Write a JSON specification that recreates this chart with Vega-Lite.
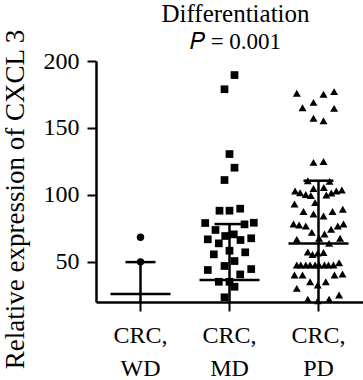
{
  "$schema": "https://vega.github.io/schema/vega-lite/v6.json",
  "autosize": "none",
  "padding": {"left": 96, "top": 61, "right": 0, "bottom": 78},
  "width": 267,
  "height": 241,
  "config": {
    "view": {"stroke": null},
    "font": "Liberation Serif",
    "axis": {"grid": false, "domainColor": "black", "tickColor": "black", "labelColor": "black", "titleColor": "black", "labelFont": "Liberation Serif", "titleFont": "Liberation Serif", "titleFontWeight": "normal"}
  },
  "title": {
    "text": "Differentiation",
    "subtitle": "𝑃 = 0.001",
    "font": "Liberation Serif",
    "fontSize": 25,
    "fontWeight": "normal",
    "color": "black",
    "subtitleFont": "Liberation Serif",
    "subtitleFontSize": 23,
    "subtitleColor": "black",
    "subtitlePadding": 4,
    "anchor": "middle",
    "dx": 6,
    "offset": -25
  },
  "datasets": {
    "points": [
      {"group": "CRC, WD", "jitter": 0, "value": 68.3},
      {"group": "CRC, WD", "jitter": 0, "value": 50},
      {"group": "CRC, MD", "jitter": 5, "value": 189.5},
      {"group": "CRC, MD", "jitter": -5, "value": 178.9},
      {"group": "CRC, MD", "jitter": 0, "value": 130.5},
      {"group": "CRC, MD", "jitter": 5, "value": 120.3},
      {"group": "CRC, MD", "jitter": -5, "value": 111.1},
      {"group": "CRC, MD", "jitter": -10, "value": 88.2},
      {"group": "CRC, MD", "jitter": 0, "value": 88.2},
      {"group": "CRC, MD", "jitter": 10.7, "value": 89.7},
      {"group": "CRC, MD", "jitter": -24.3, "value": 79},
      {"group": "CRC, MD", "jitter": 24.3, "value": 79.2},
      {"group": "CRC, MD", "jitter": 15, "value": 78},
      {"group": "CRC, MD", "jitter": -14, "value": 73.8},
      {"group": "CRC, MD", "jitter": -21.7, "value": 66.8},
      {"group": "CRC, MD", "jitter": -4.3, "value": 69.3},
      {"group": "CRC, MD", "jitter": 4.3, "value": 70.5},
      {"group": "CRC, MD", "jitter": 11, "value": 66.3},
      {"group": "CRC, MD", "jitter": 21.7, "value": 67.6},
      {"group": "CRC, MD", "jitter": -10.7, "value": 63.8},
      {"group": "CRC, MD", "jitter": 0, "value": 58.3},
      {"group": "CRC, MD", "jitter": -15.7, "value": 55.6},
      {"group": "CRC, MD", "jitter": 15.7, "value": 57.1},
      {"group": "CRC, MD", "jitter": 5, "value": 50.6},
      {"group": "CRC, MD", "jitter": -5, "value": 46.9},
      {"group": "CRC, MD", "jitter": -21.7, "value": 43.9},
      {"group": "CRC, MD", "jitter": 21.7, "value": 44.6},
      {"group": "CRC, MD", "jitter": 10.7, "value": 40.6},
      {"group": "CRC, MD", "jitter": -10.7, "value": 35.1},
      {"group": "CRC, MD", "jitter": 0, "value": 35.1},
      {"group": "CRC, MD", "jitter": 5, "value": 31.4},
      {"group": "CRC, MD", "jitter": -5, "value": 23.5},
      {"group": "CRC, PD", "jitter": -21.7, "value": 175.9},
      {"group": "CRC, PD", "jitter": 5, "value": 175.1},
      {"group": "CRC, PD", "jitter": 15.6, "value": 177.1},
      {"group": "CRC, PD", "jitter": -5, "value": 169.1},
      {"group": "CRC, PD", "jitter": -16, "value": 165.1},
      {"group": "CRC, PD", "jitter": 15.6, "value": 164.6},
      {"group": "CRC, PD", "jitter": -5, "value": 157.2},
      {"group": "CRC, PD", "jitter": 5, "value": 155.4},
      {"group": "CRC, PD", "jitter": -5, "value": 124.3},
      {"group": "CRC, PD", "jitter": 5, "value": 125},
      {"group": "CRC, PD", "jitter": -10.7, "value": 110.6},
      {"group": "CRC, PD", "jitter": 11, "value": 110.1},
      {"group": "CRC, PD", "jitter": -23.4, "value": 102.9},
      {"group": "CRC, PD", "jitter": -18.4, "value": 101.6},
      {"group": "CRC, PD", "jitter": -12.7, "value": 100.3},
      {"group": "CRC, PD", "jitter": -7.7, "value": 99.5},
      {"group": "CRC, PD", "jitter": -5, "value": 104.8},
      {"group": "CRC, PD", "jitter": 5.3, "value": 105.5},
      {"group": "CRC, PD", "jitter": 7.8, "value": 99.9},
      {"group": "CRC, PD", "jitter": 12.8, "value": 101.4},
      {"group": "CRC, PD", "jitter": 17.8, "value": 102.9},
      {"group": "CRC, PD", "jitter": 23.3, "value": 103.6},
      {"group": "CRC, PD", "jitter": -3.4, "value": 94.2},
      {"group": "CRC, PD", "jitter": -24, "value": 93.2},
      {"group": "CRC, PD", "jitter": -15, "value": 87.6},
      {"group": "CRC, PD", "jitter": -5, "value": 85.7},
      {"group": "CRC, PD", "jitter": 5, "value": 84.2},
      {"group": "CRC, PD", "jitter": 14, "value": 87.6},
      {"group": "CRC, PD", "jitter": 24.3, "value": 89.3},
      {"group": "CRC, PD", "jitter": -25, "value": 78.2},
      {"group": "CRC, PD", "jitter": -19.4, "value": 77.5},
      {"group": "CRC, PD", "jitter": -12.7, "value": 76.7},
      {"group": "CRC, PD", "jitter": -6.7, "value": 72},
      {"group": "CRC, PD", "jitter": 6, "value": 70.8},
      {"group": "CRC, PD", "jitter": 12.6, "value": 74.3},
      {"group": "CRC, PD", "jitter": 19.3, "value": 76.7},
      {"group": "CRC, PD", "jitter": 25, "value": 78.2},
      {"group": "CRC, PD", "jitter": -21.7, "value": 66.8},
      {"group": "CRC, PD", "jitter": 0.6, "value": 67.6},
      {"group": "CRC, PD", "jitter": 21.6, "value": 67.6},
      {"group": "CRC, PD", "jitter": 10.6, "value": 63.8},
      {"group": "CRC, PD", "jitter": -10.7, "value": 57.3},
      {"group": "CRC, PD", "jitter": -6, "value": 55.5},
      {"group": "CRC, PD", "jitter": -0.7, "value": 56.5},
      {"group": "CRC, PD", "jitter": 5, "value": 57},
      {"group": "CRC, PD", "jitter": -21.7, "value": 47.6},
      {"group": "CRC, PD", "jitter": -17.7, "value": 47.6},
      {"group": "CRC, PD", "jitter": -12.7, "value": 47.6},
      {"group": "CRC, PD", "jitter": -8.4, "value": 47.6},
      {"group": "CRC, PD", "jitter": -3.4, "value": 47.6},
      {"group": "CRC, PD", "jitter": 0.6, "value": 47.6},
      {"group": "CRC, PD", "jitter": 6, "value": 47.6},
      {"group": "CRC, PD", "jitter": 10, "value": 47.6},
      {"group": "CRC, PD", "jitter": 15, "value": 47.6},
      {"group": "CRC, PD", "jitter": 20.6, "value": 49.3},
      {"group": "CRC, PD", "jitter": -24, "value": 40.1},
      {"group": "CRC, PD", "jitter": -16, "value": 40.1},
      {"group": "CRC, PD", "jitter": 16, "value": 40.1},
      {"group": "CRC, PD", "jitter": 24, "value": 40.9},
      {"group": "CRC, PD", "jitter": -21.7, "value": 30.2},
      {"group": "CRC, PD", "jitter": -8.4, "value": 35.1},
      {"group": "CRC, PD", "jitter": -0.7, "value": 32.7},
      {"group": "CRC, PD", "jitter": 7.3, "value": 35.1},
      {"group": "CRC, PD", "jitter": -10.7, "value": 22},
      {"group": "CRC, PD", "jitter": -0.7, "value": 20.9},
      {"group": "CRC, PD", "jitter": 10.6, "value": 22},
      {"group": "CRC, PD", "jitter": 20.6, "value": 25.2}
    ],
    "summary": [
      {"group": "CRC, WD", "mean": 26, "low": 2, "high": 49.8},
      {"group": "CRC, MD", "mean": 36.4, "low": -5, "high": 78.2},
      {"group": "CRC, PD", "mean": 63.7, "low": 17, "high": 110.6}
    ]
  },
  "encoding": {
    "x": {
      "field": "group",
      "type": "nominal",
      "sort": ["CRC, WD", "CRC, MD", "CRC, PD"],
      "scale": {"paddingInner": 0, "paddingOuter": 0},
      "axis": {
        "title": null,
        "labelAngle": 0,
        "labelExpr": "split(datum.label, ' ')",
        "labelFont": "Liberation Serif",
        "labelFontSize": 24,
        "labelLineHeight": 33,
        "labelBaseline": "top",
        "labelPadding": 12,
        "tickSize": 9,
        "tickWidth": 2,
        "domainWidth": 2.5
      }
    }
  },
  "layer": [
    {
      "data": {"name": "summary"},
      "mark": {"type": "rule", "color": "black", "strokeWidth": 2.5, "clip": true},
      "encoding": {
        "y": {"field": "low", "type": "quantitative", "scale": {"domain": [20, 200], "nice": false, "zero": false},
          "axis": {
            "title": "Relative expression of CXCL 3",
            "values": [50, 100, 150, 200],
            "labelFont": "Liberation Serif",
            "labelFontSize": 24,
            "labelPadding": 8,
            "tickSize": 9,
            "tickWidth": 2,
            "domainWidth": 2.5,
            "titleFont": "Liberation Serif",
            "titleFontSize": 27,
            "titleX": -73,
            "titleY": 138,
            "titleAngle": -90,
            "titleAlign": "center",
            "titleBaseline": "alphabetic"
          }
        },
        "y2": {"field": "high"}
      }
    },
    {
      "data": {"name": "summary"},
      "mark": {"type": "tick", "color": "black", "opacity": 1, "thickness": 2.5, "size": 60, "orient": "horizontal"},
      "encoding": {"y": {"field": "mean", "type": "quantitative"}}
    },
    {
      "data": {"name": "summary"},
      "mark": {"type": "tick", "color": "black", "opacity": 1, "thickness": 2.5, "size": 30, "orient": "horizontal"},
      "encoding": {"y": {"field": "high", "type": "quantitative"}}
    },
    {
      "data": {"name": "points"},
      "mark": {"type": "point", "filled": true, "color": "black", "opacity": 1},
      "encoding": {
        "y": {"field": "value", "type": "quantitative"},
        "xOffset": {"field": "jitter", "type": "quantitative", "scale": {"domain": [-44.5, 44.5], "range": [0, 89]}},
        "shape": {"field": "group", "type": "nominal", "scale": {"domain": ["CRC, WD", "CRC, MD", "CRC, PD"], "range": ["circle", "square", "triangle-up"]}, "legend": null},
        "size": {"field": "group", "type": "nominal", "scale": {"domain": ["CRC, WD", "CRC, MD", "CRC, PD"], "range": [55, 64, 60]}, "legend": null}
      }
    }
  ]
}
